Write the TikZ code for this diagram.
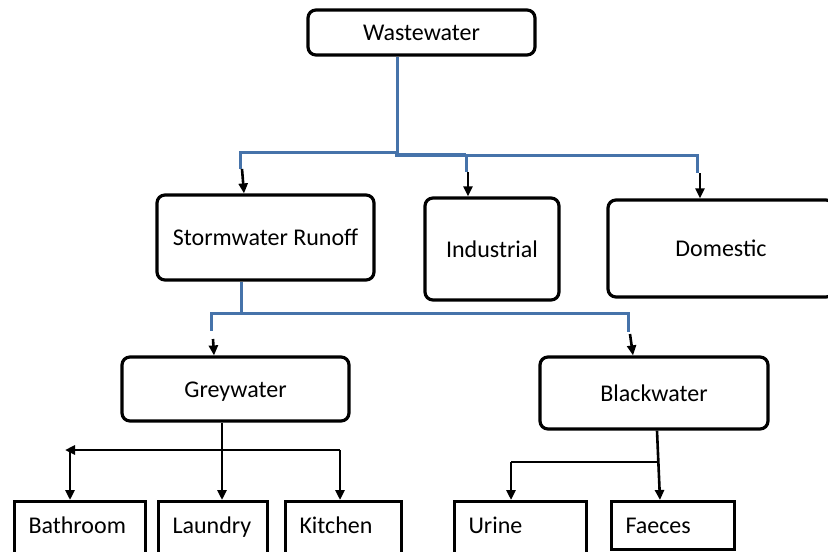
\documentclass[tikz,border=0pt]{standalone}
\usepackage{fontspec}
\setmainfont{Carlito}
\usetikzlibrary{arrows.meta}
\definecolor{linkblue}{RGB}{70,115,170}
\tikzset{
  rbox/.style={draw=black, line width=3.2pt, rounded corners=8pt, fill=white,
    inner sep=0pt, text height=16pt, text depth=0pt,
    font=\fontsize{24}{28}\selectfont},
  sbox/.style={draw=black, line width=3pt, fill=white, anchor=north west,
    inner ysep=0pt, inner xsep=14pt, text height=32pt, align=left,
    font=\fontsize{24}{28}\selectfont},
  bl/.style={draw=linkblue, line width=3pt},
  arr/.style={draw=black, line width=2.6pt, -{Triangle[length=10pt,width=9pt]}},
  blk/.style={draw=black, line width=2.6pt}
}
\begin{document}
\begin{tikzpicture}[x=1pt,y=-1pt]
\useasboundingbox (0,0) rectangle (828,552);
\fill[white] (0,0) rectangle (828,552);
\clip (0,0) rectangle (828,552);

% upper boxes
\node[rbox, minimum width=227pt, minimum height=45pt] (ww) at (421.5,32.5) {Wastewater};
\node[rbox, minimum width=217pt, minimum height=85pt] (storm) at (265.5,237.5) {Stormwater Runoff};
\node[rbox, minimum width=134pt, minimum height=102pt] (ind) at (492,249) {Industrial};
\node[rbox, minimum width=226pt, minimum height=97pt] (dom) at (721,248.5) {Domestic};
\node[rbox, minimum width=227pt, minimum height=64pt] (grey) at (235.5,389) {Greywater};
\node[rbox, minimum width=228pt, minimum height=72pt] (black) at (654,393) {Blackwater};

% lower boxes
\node[sbox, text width=103pt, text depth=30pt] (bath) at (13,500) {Bathroom};
\node[sbox, text width=81pt, text depth=30pt] (laun) at (157,500) {Laundry};
\node[sbox, text width=88pt, text depth=30pt] (kit) at (284,500) {Kitchen};
\node[sbox, text width=104pt, text depth=30pt] (uri) at (453,500) {Urine};
\node[sbox, text width=95pt, text depth=16pt] (fae) at (610,500) {Faeces};

% junction coordinates
\coordinate (t0) at (397,152);
\coordinate (t1) at (397,155);
\coordinate (tM0) at (466,155);
\coordinate (tL) at (240,169);
\coordinate (tM) at (466,172);
\coordinate (tR) at (697,173);
\coordinate (s0) at (241,313);
\coordinate (gL) at (211,331);
\coordinate (gR) at (628,332);
\coordinate (g0) at (222,450);
\coordinate (gA) at (70,450);
\coordinate (gK) at (340,450);
\coordinate (gT) at (65,450);
\coordinate (b0) at (657,462);
\coordinate (bU) at (511,462);

% blue connectors from Wastewater
\draw[bl] (ww.south -| t0) -- (t0) -| (tL);
\draw[bl, line width=4pt] (t0) -- (t1) -- (tM0);
\draw[bl] (tM0) -- (tM);
\draw[bl] (tM0) -| (tR);
\draw[arr] ([xshift=2pt]tL) -- ([xshift=4pt]storm.north -| tL);
\draw[arr] ([xshift=2pt]tM) -- ([xshift=2pt]ind.north -| tM);
\draw[arr] ([xshift=3pt]tR) -- ([xshift=3pt]dom.north -| tR);

% blue connectors from Stormwater Runoff
\draw[bl] (storm.south -| s0) -- (s0);
\draw[bl] (s0) -| (gL);
\draw[bl] (s0) -| (gR);
\draw[arr] ([xshift=2pt,yshift=-8pt]gL) -- ([xshift=3pt]grey.north -| gL);
\draw[arr] ([xshift=2pt,yshift=-2pt]gR) -- ([xshift=5pt]black.north -| gR);

% Greywater branches
\draw[arr] (grey.south -| g0) -- (laun.north -| g0);
\draw[arr] (gK) -- (gT);
\draw[arr] (gA) -- (bath.north -| gA);
\draw[arr] (gK) -- (kit.north -| gK);

% Blackwater branches
\draw[arr] (black.south -| b0) -- ([xshift=3pt]fae.north -| b0);
\draw[blk] (b0) -- (bU);
\draw[arr] (bU) -- (uri.north -| bU);
\end{tikzpicture}
\end{document}
